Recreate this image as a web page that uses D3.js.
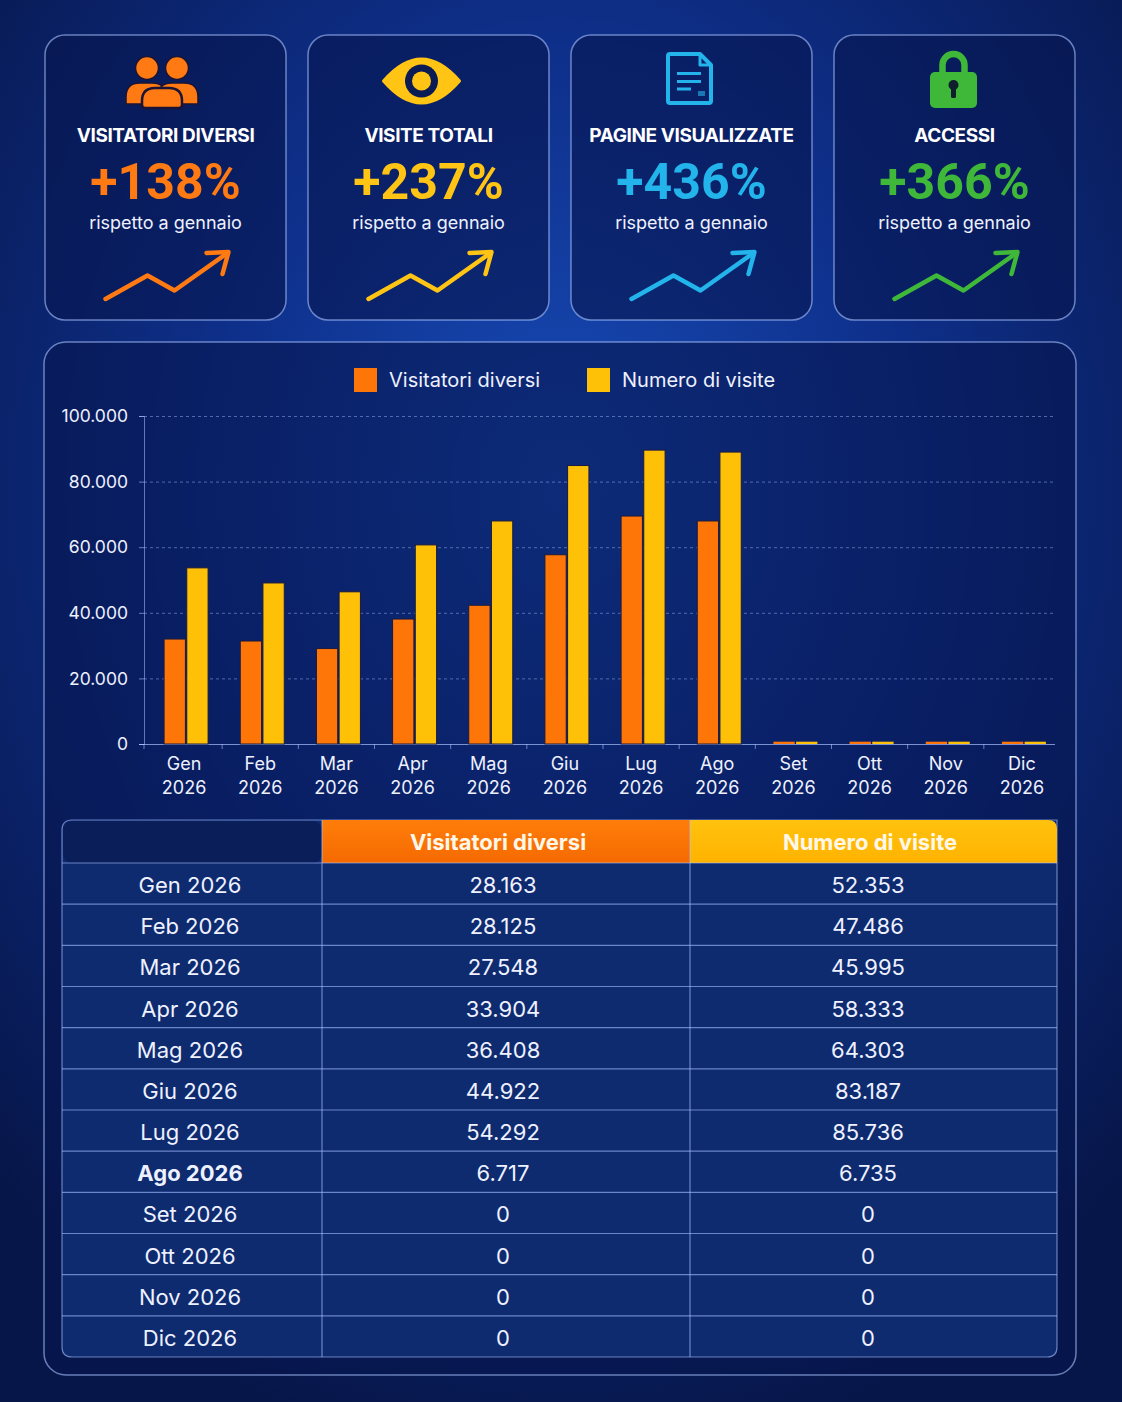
<!DOCTYPE html>
<html>
<head>
<meta charset="utf-8">
<script src="https://cdn.jsdelivr.net/npm/d3@7"></script>
<style>
    html, body { margin: 0; padding: 0; background: #081a4e; }
    svg { display: block; font-family: Inter, 'Noto Sans', sans-serif; }
</style>
</head>
<body>
<div id="chart"></div>
<script>
(function () {
    'use strict';

    // --- data ---
    var months = ['Gen', 'Feb', 'Mar', 'Apr', 'Mag', 'Giu', 'Lug', 'Ago', 'Set', 'Ott', 'Nov', 'Dic'];
    var year = '2026';
    var seriesNames = ['Visitatori diversi', 'Numero di visite'];
    var seriesColors = ['#ff7608', '#ffc107'];
    // bar heights as drawn in the chart
    var visitatoriBars = [32000, 31400, 29100, 38100, 42300, 57700, 69500, 68000, 700, 700, 700, 700];
    var visiteBars = [53700, 49100, 46400, 60700, 68000, 84900, 89600, 89000, 700, 700, 700, 700];
    // figures printed in the table
    var visitatoriTable = [28163, 28125, 27548, 33904, 36408, 44922, 54292, 6717, 0, 0, 0, 0];
    var visiteTable = [52353, 47486, 45995, 58333, 64303, 83187, 85736, 6735, 0, 0, 0, 0];
    var yTicks = [0, 20000, 40000, 60000, 80000, 100000];
    var boldMonth = 'Ago';

    var kpiTitles = ['VISITATORI DIVERSI', 'VISITE TOTALI', 'PAGINE VISUALIZZATE', 'ACCESSI'];
    var kpiGrowth = [138, 237, 436, 366];
    var kpiColors = ['#ff7a12', '#ffc414', '#22b4ea', '#3fb83a'];
    var kpiIcons = ['people', 'eye', 'page', 'lock'];
    var kpiNote = 'rispetto a gennaio';

    var self = {};
    self.width = 1122;
    self.height = 1402;
    self.lineColor = 'rgba(170,195,255,0.6)';
    self.textColor = '#eef1ff';

    var it = d3.formatLocale({ decimal: ',', thousands: '.', grouping: [3], currency: ['€', ''] });
    var fmt = it.format(',d');

    var svg = createSvg('#chart');
    drawBackground(svg);
    drawKpis(svg);
    drawChart(svg);
    drawTable(svg);

    function createSvg(element) {
        return d3.select(element)
            .append('svg')
            .attr('width', self.width)
            .attr('height', self.height);
    }

    function translate(x, y) {
        return 'translate(' + x + ',' + y + ')';
    }

    function drawBackground(svg) {
        var defs = svg.append('defs');
        var rg = defs.append('radialGradient')
            .attr('id', 'bg')
            .attr('cx', '50%').attr('cy', '35%').attr('r', '70%');
        rg.append('stop').attr('offset', '0%').attr('stop-color', '#184cb8');
        rg.append('stop').attr('offset', '45%').attr('stop-color', '#0e2f8a');
        rg.append('stop').attr('offset', '100%').attr('stop-color', '#071649');

        var hg = defs.append('linearGradient')
            .attr('id', 'head-or').attr('x1', 0).attr('x2', 0).attr('y1', 0).attr('y2', 1);
        hg.append('stop').attr('offset', '0%').attr('stop-color', '#ff7d0a');
        hg.append('stop').attr('offset', '100%').attr('stop-color', '#f56a00');
        var hy = defs.append('linearGradient')
            .attr('id', 'head-ye').attr('x1', 0).attr('x2', 0).attr('y1', 0).attr('y2', 1);
        hy.append('stop').attr('offset', '0%').attr('stop-color', '#ffc20e');
        hy.append('stop').attr('offset', '100%').attr('stop-color', '#ffb300');

        svg.append('rect')
            .attr('width', self.width)
            .attr('height', self.height)
            .attr('fill', 'url(#bg)');
    }

    function drawPanel(group, x, y, w, h, r) {
        group.append('rect')
            .attr('x', x).attr('y', y)
            .attr('width', w).attr('height', h)
            .attr('rx', r)
            .attr('fill', 'rgba(6,22,78,0.6)')
            .attr('stroke', self.lineColor)
            .attr('stroke-width', 1.5);
    }

    function drawKpis(svg) {
        var cardW = 241, cardH = 285, x0 = 45, gap = 22, y0 = 35;
        kpiTitles.forEach(function (title, i) {
            var x = x0 + i * (cardW + gap);
            var cx = x + cardW / 2;
            var g = svg.append('g');
            drawPanel(g, x, y0, cardW, cardH, 20);

            drawIcon(g.append('g').attr('transform', translate(cx, 0)), kpiIcons[i], kpiColors[i]);

            g.append('text')
                .attr('x', cx).attr('y', 142)
                .attr('text-anchor', 'middle')
                .attr('fill', '#ffffff')
                .attr('font-size', 19)
                .attr('font-weight', 700)
                .attr('letter-spacing', -0.4)
                .text(title);

            g.append('text')
                .attr('x', cx).attr('y', 199)
                .attr('text-anchor', 'middle')
                .attr('fill', kpiColors[i])
                .attr('font-family', 'Roboto, sans-serif')
                .attr('font-size', 50)
                .attr('font-weight', 700)
                .text('+' + kpiGrowth[i] + '%');

            g.append('text')
                .attr('x', cx).attr('y', 229)
                .attr('text-anchor', 'middle')
                .attr('fill', self.textColor)
                .attr('font-size', 18)
                .text(kpiNote);

            drawTrend(g.append('g').attr('transform', translate(cx, 0)), kpiColors[i]);
        });
    }

    function drawTrend(g, color) {
        g.append('path')
            .attr('d', 'M-60,299 L-18,275.5 L9,290.5 L62,253')
            .attr('fill', 'none')
            .attr('stroke', color)
            .attr('stroke-width', 4.5)
            .attr('stroke-linecap', 'round')
            .attr('stroke-linejoin', 'round');
        g.append('path')
            .attr('d', 'M41,253 L63,252 L57,274')
            .attr('fill', 'none')
            .attr('stroke', color)
            .attr('stroke-width', 4.5)
            .attr('stroke-linecap', 'round')
            .attr('stroke-linejoin', 'round');
    }

    function drawIcon(g, type, color) {
        var dark = '#1b1436';
        if (type === 'people') {
            g = g.append('g').attr('transform', translate(-3.5, 0));
            g.append('path')
                .attr('d', 'M-36,104 L-36,97 Q-36,83 -22,83 L-10,83 Q4,83 4,97 L4,104 Z')
                .attr('fill', color).attr('stroke', dark).attr('stroke-width', 1.5);
            g.append('path')
                .attr('d', 'M-4,104 L-4,97 Q-4,83 10,83 L22,83 Q36,83 36,97 L36,104 Z')
                .attr('fill', color).attr('stroke', dark).attr('stroke-width', 1.5);
            g.append('circle').attr('cx', -15).attr('cy', 68).attr('r', 11.5)
                .attr('fill', color).attr('stroke', dark).attr('stroke-width', 1.5);
            g.append('circle').attr('cx', 15).attr('cy', 68).attr('r', 11.5)
                .attr('fill', color).attr('stroke', dark).attr('stroke-width', 1.5);
            g.append('path')
                .attr('d', 'M-20,105 L-20,101 Q-20,88 -7,88 L7,88 Q20,88 20,101 L20,105 Q20,108 17,108 L-17,108 Q-20,108 -20,105 Z')
                .attr('fill', color).attr('stroke', dark).attr('stroke-width', 2.5);
        } else if (type === 'eye') {
            g = g.append('g').attr('transform', translate(-7, 81));
            g.append('path')
                .attr('d', 'M-38,0 Q0,-44 38,0 Q0,44 -38,0 Z')
                .attr('fill', color)
                .attr('stroke', color).attr('stroke-width', 3).attr('stroke-linejoin', 'round');
            g.append('circle').attr('r', 16.5).attr('fill', '#0b1c55');
            g.append('circle').attr('r', 9.5).attr('fill', color);
        } else if (type === 'page') {
            g = g.append('g').attr('transform', translate(-2.5, 0));
            g.append('path')
                .attr('d', 'M-19,54 L11,54 L22,65 L22,101 Q22,103 20,103 L-19,103 Q-21,103 -21,101 L-21,56 Q-21,54 -19,54 Z')
                .attr('fill', 'none').attr('stroke', color).attr('stroke-width', 4)
                .attr('stroke-linejoin', 'round');
            g.append('path')
                .attr('d', 'M11,54 L11,65 L22,65')
                .attr('fill', 'none').attr('stroke', color).attr('stroke-width', 3)
                .attr('stroke-linejoin', 'round');
            [[73.5, 12], [81.5, 12], [89, 2]].forEach(function (l) {
                g.append('line')
                    .attr('x1', -12).attr('x2', l[1])
                    .attr('y1', l[0]).attr('y2', l[0])
                    .attr('stroke', color).attr('stroke-width', 3);
            });
            g.append('rect').attr('x', 9).attr('y', 91).attr('width', 7).attr('height', 5)
                .attr('fill', color).attr('opacity', 0.6);
        } else if (type === 'lock') {
            g = g.append('g').attr('transform', translate(-1, 0));
            g.append('path')
                .attr('d', 'M-11,74 L-11,65 A11,11 0 0 1 11,65 L11,74')
                .attr('fill', 'none').attr('stroke', color).attr('stroke-width', 6.5);
            g.append('rect')
                .attr('x', -23.5).attr('y', 72).attr('width', 47).attr('height', 36)
                .attr('rx', 5).attr('fill', color);
            g.append('circle').attr('cy', 85).attr('r', 5).attr('fill', '#0f1f2c');
            g.append('rect').attr('x', -2.5).attr('y', 85).attr('width', 5).attr('height', 13)
                .attr('rx', 1.5).attr('fill', '#0f1f2c');
        }
    }

    function drawChart(svg) {
        var g = svg.append('g');
        drawPanel(g, 44, 342, 1032, 1033, 22);

        var left = 144, right = 1055, top = 416, bottom = 744;
        var y = d3.scaleLinear().domain([0, 100000]).range([bottom, top]);
        var x = d3.scaleBand().domain(months).range([left + 2, right + 5]).padding(0);
        var groupW = 44;
        var x1 = d3.scaleBand().domain([0, 1]).range([-groupW / 2, groupW / 2]).paddingInner(0.06);

        // legend
        var legendX = [354, 587];
        seriesNames.forEach(function (name, i) {
            g.append('rect')
                .attr('x', legendX[i]).attr('y', 368)
                .attr('width', 23).attr('height', 24)
                .attr('fill', seriesColors[i]);
            g.append('text')
                .attr('x', legendX[i] + 35).attr('y', 387)
                .attr('fill', self.textColor)
                .attr('font-size', 20)
                .text(name);
        });

        // grid
        g.append('g')
            .selectAll('line')
            .data(yTicks.slice(1))
            .join('line')
            .attr('x1', left).attr('x2', right)
            .attr('y1', function (d) { return y(d) + 0.5; })
            .attr('y2', function (d) { return y(d) + 0.5; })
            .attr('stroke', 'rgba(170,195,255,0.45)')
            .attr('stroke-dasharray', '3,3');

        // y axis
        var yAxis = g.append('g')
            .attr('transform', translate(left, 0))
            .call(d3.axisLeft(y).tickValues(yTicks).tickSize(5).tickPadding(11).tickFormat(fmt));
        yAxis.select('.domain').attr('stroke', 'rgba(170,195,255,0.55)');
        yAxis.selectAll('.tick line').attr('stroke', 'rgba(170,195,255,0.6)');
        yAxis.selectAll('text')
            .attr('fill', self.textColor)
            .attr('font-size', 17.5)
            .attr('font-family', 'Inter, sans-serif');

        // x axis line with boundary ticks
        g.append('line')
            .attr('x1', left - 5).attr('x2', right)
            .attr('y1', bottom + 0.5).attr('y2', bottom + 0.5)
            .attr('stroke', 'rgba(170,195,255,0.7)');
        g.append('g')
            .selectAll('line')
            .data(months)
            .join('line')
            .attr('x1', function (d, i) { return i === 0 ? left : x(d); })
            .attr('x2', function (d, i) { return i === 0 ? left : x(d); })
            .attr('y1', bottom).attr('y2', bottom + 5)
            .attr('stroke', 'rgba(170,195,255,0.6)');

        var labels = g.append('g')
            .selectAll('text')
            .data(months)
            .join('text')
            .attr('text-anchor', 'middle')
            .attr('fill', self.textColor)
            .attr('font-size', 18);
        labels.append('tspan')
            .attr('x', function (d) { return x(d) + x.bandwidth() / 2; })
            .attr('y', 770)
            .text(function (d) { return d; });
        labels.append('tspan')
            .attr('x', function (d) { return x(d) + x.bandwidth() / 2; })
            .attr('y', 794)
            .text(year);

        // bars
        var rows = months.map(function (m, i) {
            return { month: m, values: [visitatoriBars[i], visiteBars[i]] };
        });
        g.append('g')
            .selectAll('g')
            .data(rows)
            .join('g')
            .attr('transform', function (d) { return translate(x(d.month) + x.bandwidth() / 2 + 2, 0); })
            .selectAll('rect')
            .data(function (d) { return d.values; })
            .join('rect')
            .attr('x', function (d, i) { return x1(i); })
            .attr('width', x1.bandwidth())
            .attr('y', function (d) { return y(d); })
            .attr('height', function (d) { return bottom - y(d); })
            .attr('fill', function (d, i) { return seriesColors[i]; })
            .attr('stroke', function (d) { return bottom - y(d) > 5 ? '#1a1a40' : 'none'; })
            .attr('stroke-width', 1);
    }

    function drawTable(svg) {
        var g = svg.append('g');
        var tx0 = 62, tx1 = 1057, c1 = 322, c2 = 690;
        var headTop = 820, headBottom = 863, tableBottom = 1357;
        var rowH = (tableBottom - headBottom) / months.length;
        var cols = [190, 503, 868];
        var headCols = [498, 870];

        // body
        g.append('path')
            .attr('d', 'M' + tx0 + ',' + (headTop + 10) + ' Q' + tx0 + ',' + headTop + ' ' + (tx0 + 10) + ',' + headTop +
                ' L' + tx1 + ',' + headTop + ' L' + tx1 + ',' + (tableBottom - 10) +
                ' Q' + tx1 + ',' + tableBottom + ' ' + (tx1 - 10) + ',' + tableBottom +
                ' L' + (tx0 + 10) + ',' + tableBottom + ' Q' + tx0 + ',' + tableBottom + ' ' + tx0 + ',' + (tableBottom - 10) + ' Z')
            .attr('fill', '#0e2b70')
            .attr('stroke', self.lineColor)
            .attr('stroke-width', 1.2);
        g.append('rect')
            .attr('x', tx0 + 1).attr('y', headTop + 1)
            .attr('width', c1 - tx0 - 1).attr('height', headBottom - headTop - 1)
            .attr('rx', 9)
            .attr('fill', '#0a1f5a');

        // header cells
        g.append('rect')
            .attr('x', c1).attr('y', headTop)
            .attr('width', c2 - c1).attr('height', headBottom - headTop)
            .attr('fill', 'url(#head-or)');
        g.append('path')
            .attr('d', 'M' + c2 + ',' + headTop + ' L' + (tx1 - 9) + ',' + headTop +
                ' Q' + tx1 + ',' + headTop + ' ' + tx1 + ',' + (headTop + 9) +
                ' L' + tx1 + ',' + headBottom + ' L' + c2 + ',' + headBottom + ' Z')
            .attr('fill', 'url(#head-ye)');
        seriesNames.forEach(function (name, i) {
            g.append('text')
                .attr('x', headCols[i]).attr('y', 850)
                .attr('text-anchor', 'middle')
                .attr('fill', '#fff8ea')
                .attr('font-size', 22)
                .attr('font-weight', 700)
                .text(name);
        });

        // grid lines
        g.append('g')
            .selectAll('line')
            .data(d3.range(months.length))
            .join('line')
            .attr('x1', tx0).attr('x2', tx1)
            .attr('y1', function (i) { return headBottom + i * rowH; })
            .attr('y2', function (i) { return headBottom + i * rowH; })
            .attr('stroke', self.lineColor)
            .attr('stroke-width', 1.2);
        [c1, c2].forEach(function (cx) {
            g.append('line')
                .attr('x1', cx).attr('x2', cx)
                .attr('y1', headTop).attr('y2', tableBottom)
                .attr('stroke', self.lineColor)
                .attr('stroke-width', 1.2);
        });

        // rows
        var rows = g.append('g')
            .selectAll('g')
            .data(months)
            .join('g')
            .attr('transform', function (d, i) { return translate(0, headBottom + i * rowH + rowH / 2 + 9.5); });
        rows.append('text')
            .attr('x', cols[0])
            .attr('text-anchor', 'middle')
            .attr('fill', self.textColor)
            .attr('font-size', 22)
            .attr('font-weight', function (d) { return d === boldMonth ? 700 : 400; })
            .text(function (d) { return d + ' ' + year; });
        rows.append('text')
            .attr('x', cols[1])
            .attr('text-anchor', 'middle')
            .attr('fill', self.textColor)
            .attr('font-size', 22)
            .text(function (d, i) { return fmt(visitatoriTable[i]); });
        rows.append('text')
            .attr('x', cols[2])
            .attr('text-anchor', 'middle')
            .attr('fill', self.textColor)
            .attr('font-size', 22)
            .text(function (d, i) { return fmt(visiteTable[i]); });
    }

}());
</script>
</body>
</html>
